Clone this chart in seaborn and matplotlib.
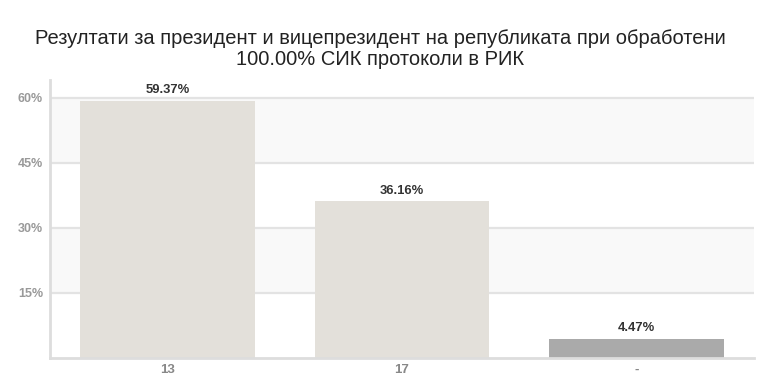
import matplotlib
matplotlib.use("Agg")
import matplotlib.pyplot as plt
import seaborn as sns
import pandas as pd

categories = ["13", "17", "-"]
values = [59.37, 36.16, 4.47]
labels = ["59.37%", "36.16%", "4.47%"]
colors = ["#e3e0da", "#e3e0da", "#aaaaaa"]
yticks = [15, 30, 45, 60]
ytick_labels = ["15%", "30%", "45%", "60%"]
title = "Резултати за президент и вицепрезидент на републиката при обработени\n100.00% СИК протоколи в РИК"

sns.set_theme(style="white")
plt.rcParams['font.family'] = ['Liberation Sans', 'DejaVu Sans']

df = pd.DataFrame({"cat": categories, "val": values})

fig = plt.figure(figsize=(7.63, 3.84), dpi=100)
ax = fig.add_axes([50/763, 1 - 358/384, 704/763, (358-80)/384])

ax.set_ylim(0, 64.15)
ax.set_xlim(-0.5, 2.5)
# alternating bands
ax.axhspan(45, 60, color="#f9f9f9", zorder=0, lw=0)
ax.axhspan(15, 30, color="#f9f9f9", zorder=0, lw=0)
for y in yticks:
    ax.axhline(y, color="#e3e3e3", lw=1.6, zorder=1)

sns.barplot(data=df, x="cat", y="val", hue="cat", palette=colors, legend=False,
            width=0.745, ax=ax, saturation=1, zorder=2, linewidth=0)

for i, (v, lab) in enumerate(zip(values, labels)):
    ax.text(i, v + 1.1, lab, ha="center", va="bottom", fontsize=9.4,
            fontweight="bold", color="#333333")

ax.set_yticks(yticks)
ax.set_yticklabels(ytick_labels)
ax.tick_params(axis="y", length=0, pad=5, labelsize=9, labelcolor="#999999")
ax.tick_params(axis="x", length=0, pad=4, labelsize=9.5, labelcolor="#888888")
for t in ax.get_yticklabels() + ax.get_xticklabels():
    t.set_fontweight("bold")
ax.set_xlabel("")
ax.set_ylabel("")
for s in ["top", "right"]:
    ax.spines[s].set_visible(False)
for s in ["left", "bottom"]:
    ax.spines[s].set_color("#dddddd")
    ax.spines[s].set_linewidth(2)

fig.text(380/763, 1 - 49/384, title, ha="center", va="center", fontsize=14.5,
         color="#222222", linespacing=1.1)

fig.savefig("out.png", dpi=100, facecolor="white")
